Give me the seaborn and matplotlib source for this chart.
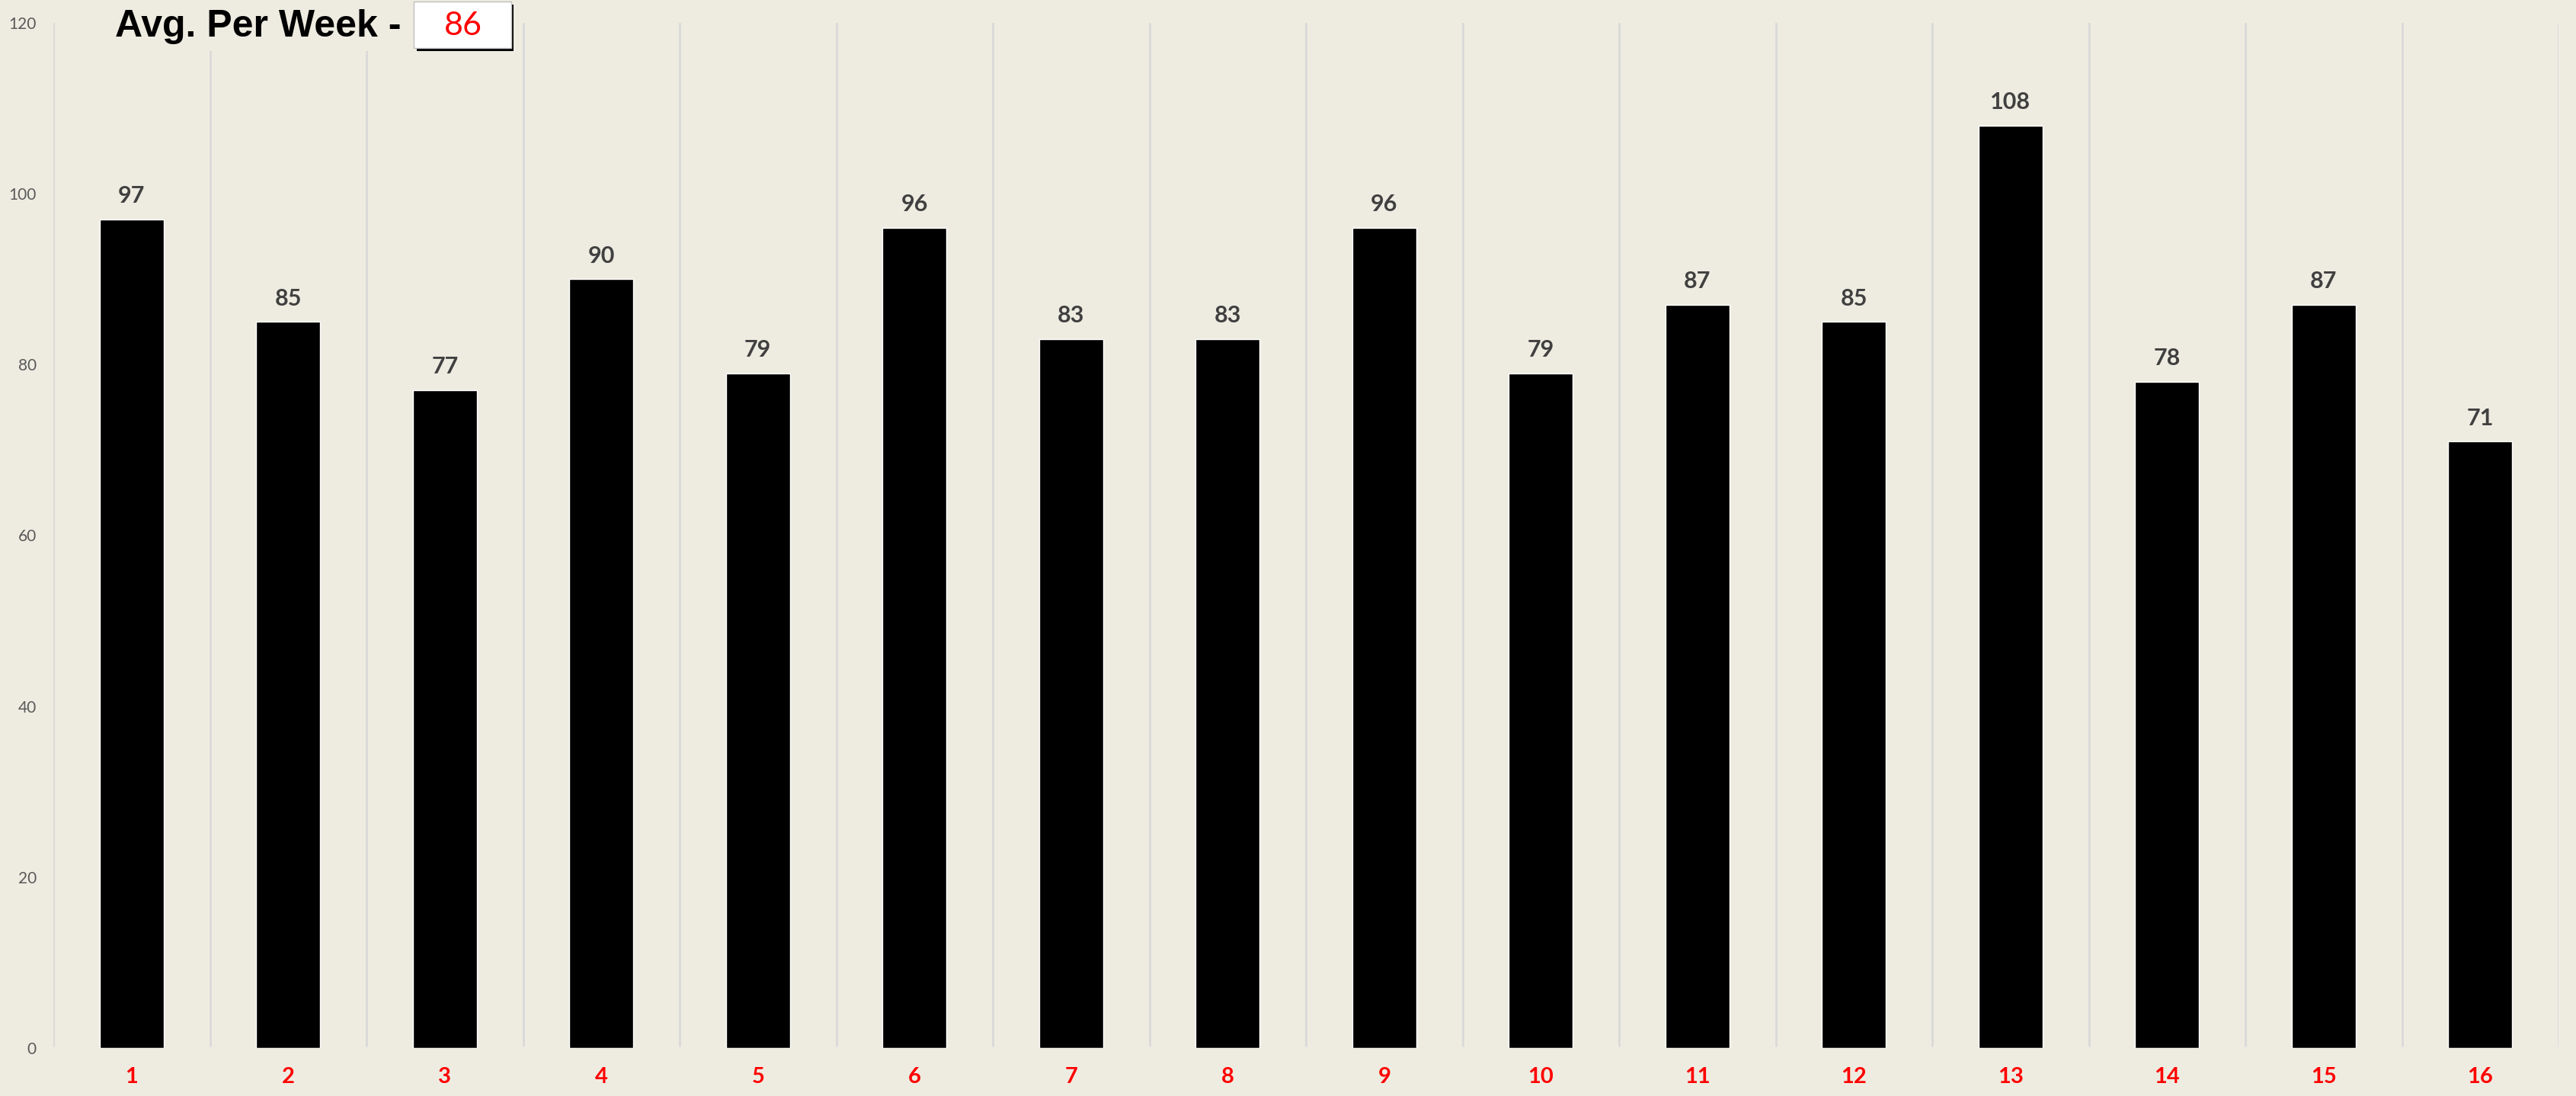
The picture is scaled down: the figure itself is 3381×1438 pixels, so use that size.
import numpy as np
import pandas as pd
import matplotlib
matplotlib.use('Agg')
import matplotlib.pyplot as plt
from matplotlib import font_manager
from matplotlib.patches import Rectangle
import seaborn as sns

# weekly counts
weeks = [str(i) for i in range(1, 17)]
counts = [97, 85, 77, 90, 79, 96, 83, 83, 96, 79, 87, 85, 108, 78, 87, 71]
avg_label = '86'
y_ticks = [0, 20, 40, 60, 80, 100, 120]

bg = '#EEECE1'
W, H = 3381, 1438


def pick_bold(cands):
    # first family that really has a bold face installed
    for fam in cands:
        try:
            path = font_manager.findfont(
                font_manager.FontProperties(family=fam, weight='bold'),
                fallback_to_default=False)
        except Exception:
            continue
        if 'bold' in path.lower():
            return [fam, 'DejaVu Sans']
    return ['Liberation Sans', 'DejaVu Sans']


bold_font = pick_bold(['Lato', 'Noto Sans', 'Roboto', 'Open Sans', 'Liberation Sans'])

sns.set_style('white', {'axes.facecolor': bg, 'figure.facecolor': bg})
plt.rcParams['font.family'] = ['Lato', 'DejaVu Sans']

df = pd.DataFrame({'Week': weeks, 'Count': counts})

fig = plt.figure(figsize=(W / 100, H / 100), dpi=100)
ax = fig.add_axes([70 / W, 1 - 1375 / H, (3358 - 70) / W, (1375 - 30) / H])

sns.barplot(data=df, x='Week', y='Count', color='black', width=0.41,
            saturation=1, ax=ax)

ax.set_xlim(-0.5, len(weeks) - 0.5)
ax.set_ylim(0, 120)
ax.set_yticks(y_ticks)
ax.set_xlabel('')
ax.set_ylabel('')

# vertical separators between weeks
for b in np.arange(-0.5, len(weeks), 1.0):
    ax.axvline(b, ymin=0.002, ymax=1, color='#D9D9D9', lw=2, zorder=0)

for s in ax.spines.values():
    s.set_visible(False)

ax.tick_params(axis='y', length=0, pad=16, labelsize=15, labelcolor='#595959')
ax.tick_params(axis='x', length=0, pad=18, labelsize=21, labelcolor='#FF0000')
for lbl in ax.get_xticklabels():
    lbl.set_fontweight('bold')
    lbl.set_family(bold_font)

for i, v in enumerate(counts):
    ax.annotate(str(v), (i, v), xytext=(0, 12), textcoords='offset points',
                ha='center', va='bottom', fontsize=22, fontweight='bold',
                family=bold_font, color='#404040')

# title with the average box
fig.text(151 / W, 1 - 35 / H, 'Avg. Per Week -', ha='left', va='center',
         fontsize=36, fontweight='bold', family=['Liberation Sans', 'DejaVu Sans'],
         color='black', bbox=dict(facecolor=bg, edgecolor='none', pad=6))
fig.patches.append(Rectangle((547 / W, 1 - 67 / H), 127 / W, 61 / H,
                             transform=fig.transFigure, facecolor='black',
                             edgecolor='none', zorder=5))
fig.patches.append(Rectangle((543 / W, 1 - 63 / H), 128 / W, 61 / H,
                             transform=fig.transFigure, facecolor='white',
                             edgecolor='#BFBFBF', lw=1, zorder=6))
fig.text(608 / W, 1 - 34 / H, avg_label, ha='center', va='center',
         fontsize=31, color='#FF0000', family=['Lato', 'DejaVu Sans'],
         zorder=7)

fig.savefig('out.png', dpi=100, facecolor=bg)
